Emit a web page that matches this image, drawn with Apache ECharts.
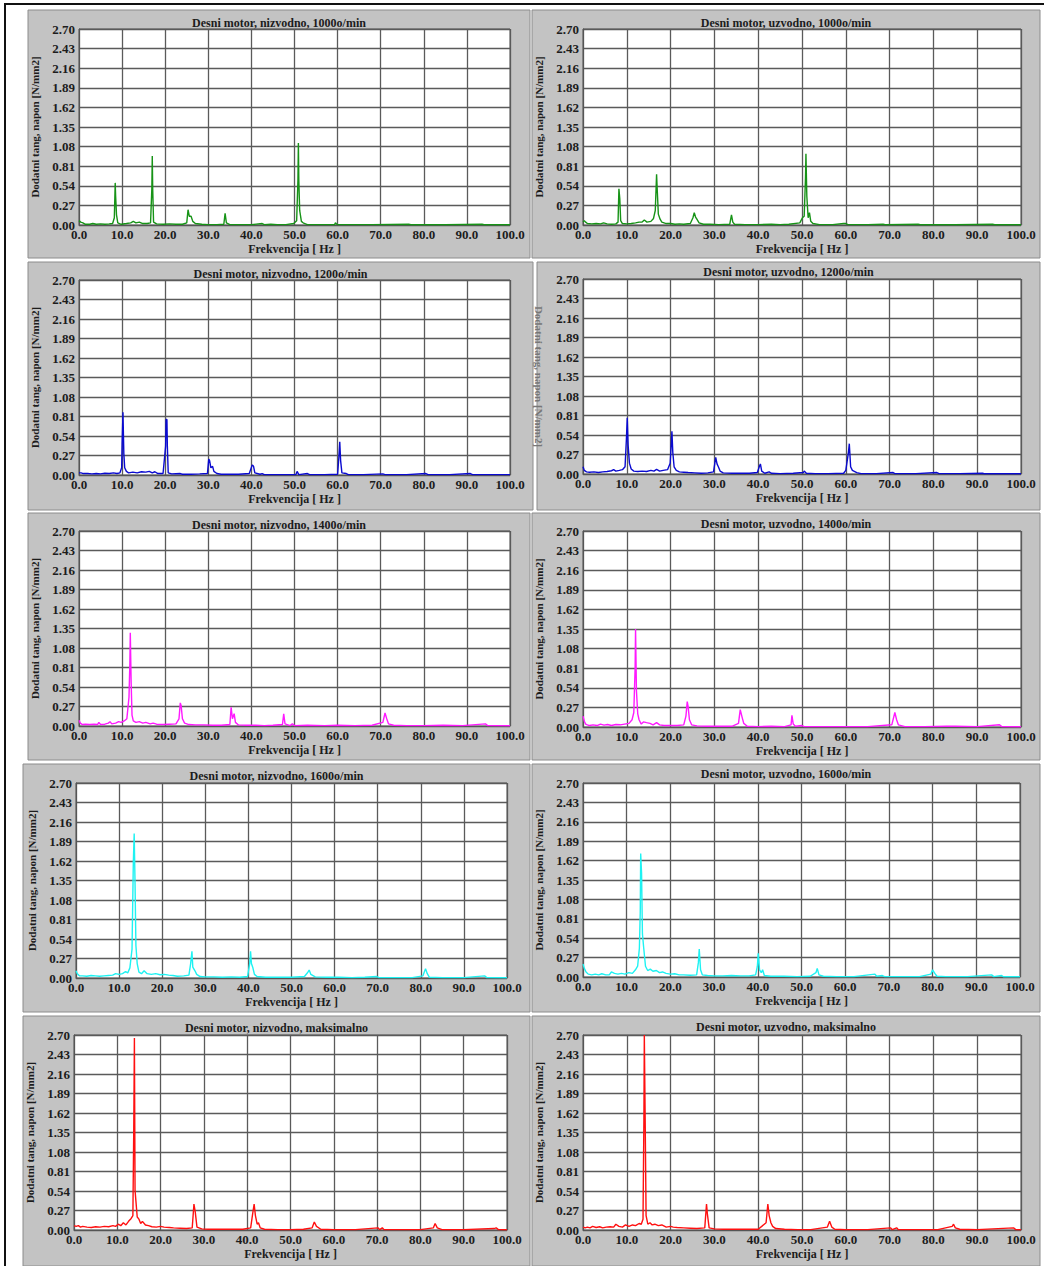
<!DOCTYPE html>
<html>
<head>
<meta charset="utf-8">
<script src="https://cdn.jsdelivr.net/npm/echarts@6/dist/echarts.min.js"></script>
<style>
html, body { margin: 0; padding: 0; background: #fff; }
#main { width: 1048px; height: 1266px; }
</style>
</head>
<body>
<div id="main"></div>
<script>
// axis ranges (Hz / N/mm2)
var xMax = 100, xStep = 10;
var yMax = 2.70, yStep = 0.27;

var titles = [
  'Desni motor, nizvodno, 1000o/min', 'Desni motor, uzvodno, 1000o/min',
  'Desni motor, nizvodno, 1200o/min', 'Desni motor, uzvodno, 1200o/min',
  'Desni motor, nizvodno, 1400o/min', 'Desni motor, uzvodno, 1400o/min',
  'Desni motor, nizvodno, 1600o/min', 'Desni motor, uzvodno, 1600o/min',
  'Desni motor, nizvodno, maksimalno', 'Desni motor, uzvodno, maksimalno'
];
var xName = 'Frekvencija [ Hz ]';
var yName = 'Dodatni tang, napon [N/mm2]';

// spectra: [frequency, amplitude]
var niz1000 = [[0,0.06],[0.4,0.04],[0.9,0.03],[1.5,0.01],[2.5,0.01],[3.2,0.02],[4,0.01],[5,0.015],[6,0.01],[7,0.015],[7.8,0.02],[8.2,0.1],[8.4,0.58],[8.5,0.4],[8.7,0.14],[9,0.03],[9.8,0.01],[11,0.02],[12,0.03],[12.6,0.05],[13.2,0.03],[14,0.04],[14.8,0.02],[15.8,0.02],[16.6,0.03],[16.9,0.5],[17.0,0.95],[17.1,0.5],[17.3,0.04],[18,0.015],[19.5,0.01],[21,0.015],[22.5,0.01],[24,0.01],[25,0.03],[25.3,0.21],[25.6,0.12],[26,0.12],[26.4,0.05],[27,0.02],[28.5,0.01],[30,0.005],[32,0.005],[33.6,0.01],[33.9,0.16],[34.2,0.03],[35,0.005],[37,0.005],[40,0.005],[42.5,0.02],[43,0.005],[44.5,0.01],[46,0.005],[48,0.005],[49.8,0.02],[50.5,0.06],[50.8,0.62],[50.9,1.13],[51.0,0.62],[51.2,0.2],[51.6,0.05],[52,0.03],[52.4,0.02],[53,0.005],[56,0.005],[59.3,0.005],[59.5,0.03],[59.9,0.005],[63,0.005],[68,0.005],[76.5,0.01],[77,0.003],[85,0.003],[93.5,0.01],[94,0.003],[100,0.003]];
var uz1000 = [[0,0.04],[0.3,0.06],[0.6,0.04],[1,0.02],[2,0.015],[3,0.02],[4,0.015],[4.7,0.03],[5.5,0.015],[6.5,0.01],[7.5,0.015],[8,0.04],[8.2,0.5],[8.4,0.36],[8.6,0.06],[9,0.02],[10,0.015],[11,0.02],[12,0.03],[12.8,0.04],[13.5,0.04],[14,0.07],[14.6,0.04],[15.5,0.05],[16.1,0.09],[16.5,0.2],[16.8,0.7],[16.9,0.55],[17.2,0.15],[17.6,0.08],[18,0.04],[19,0.02],[20,0.02],[21,0.01],[22,0.015],[23,0.01],[24.5,0.02],[25.1,0.1],[25.4,0.17],[25.7,0.11],[26,0.08],[26.5,0.03],[27.5,0.01],[29,0.01],[31,0.005],[33.5,0.01],[33.9,0.14],[34.2,0.04],[34.6,0.01],[37,0.005],[40,0.005],[43,0.01],[45,0.005],[47,0.01],[49.5,0.03],[50.1,0.1],[50.5,0.12],[50.8,0.65],[50.9,0.98],[51.1,0.4],[51.4,0.1],[51.7,0.17],[52,0.05],[52.5,0.02],[54,0.005],[57,0.005],[59.5,0.02],[60,0.02],[60.5,0.005],[65,0.005],[68.5,0.01],[69,0.003],[76.5,0.01],[77,0.003],[85,0.003],[93.5,0.01],[94,0.003],[100,0.003]];
var niz1200 = [[0,0.03],[0.5,0.03],[1,0.02],[2,0.02],[3,0.015],[4,0.02],[5,0.015],[6,0.025],[7,0.02],[8,0.03],[8.8,0.02],[9.5,0.03],[9.9,0.1],[10.0,0.43],[10.2,0.87],[10.4,0.3],[10.6,0.1],[11,0.05],[11.5,0.03],[12.5,0.04],[13.5,0.03],[14.5,0.045],[15.5,0.04],[16.3,0.05],[17,0.03],[17.6,0.045],[18.3,0.02],[19.5,0.02],[20.1,0.4],[20.2,0.77],[20.4,0.77],[20.5,0.4],[20.7,0.03],[21.5,0.015],[23.5,0.02],[24,0.01],[26,0.01],[28,0.015],[29.8,0.02],[30.1,0.22],[30.3,0.2],[30.6,0.1],[31,0.12],[31.3,0.05],[32,0.02],[33,0.01],[35,0.01],[37,0.01],[39.5,0.02],[40.2,0.14],[40.5,0.12],[40.8,0.03],[42,0.01],[42.5,0.02],[43,0.005],[46,0.005],[50.3,0.005],[50.6,0.05],[51,0.005],[53,0.02],[53.5,0.005],[57,0.005],[60,0.01],[60.3,0.25],[60.5,0.46],[60.7,0.2],[61,0.03],[62,0.02],[62.5,0.005],[66,0.005],[70.5,0.015],[71,0.005],[76,0.005],[80.5,0.02],[81,0.005],[86,0.005],[90.8,0.02],[91.3,0.005],[100,0.005]];
var uz1200 = [[0,0.1],[0.3,0.05],[0.8,0.03],[1.5,0.025],[2.5,0.03],[3.5,0.02],[4.5,0.03],[5.5,0.035],[6.5,0.045],[7,0.06],[7.5,0.04],[8.3,0.05],[9,0.06],[9.6,0.1],[9.9,0.47],[10.1,0.78],[10.3,0.4],[10.6,0.15],[11,0.07],[11.6,0.04],[12.5,0.035],[13.5,0.04],[14.5,0.035],[15.5,0.05],[16.2,0.04],[16.8,0.065],[17.5,0.04],[18.3,0.05],[19.3,0.06],[19.9,0.15],[20.2,0.47],[20.3,0.59],[20.5,0.3],[20.8,0.1],[21.3,0.05],[22,0.03],[23,0.025],[24,0.02],[25.5,0.015],[27,0.01],[28.5,0.015],[29.8,0.03],[30.1,0.15],[30.3,0.23],[30.6,0.14],[30.9,0.1],[31.3,0.04],[32,0.015],[34,0.01],[36,0.01],[38,0.01],[39.8,0.02],[40.3,0.11],[40.5,0.14],[40.8,0.04],[41.5,0.01],[42.5,0.03],[43,0.01],[45,0.005],[48,0.01],[50.3,0.02],[50.5,0.04],[51,0.01],[53,0.005],[56,0.005],[59.5,0.01],[60,0.05],[60.6,0.3],[60.8,0.42],[61.1,0.1],[61.5,0.05],[62.5,0.02],[63.5,0.005],[67,0.005],[70.8,0.02],[71.2,0.005],[76,0.005],[80.8,0.02],[81.3,0.005],[86,0.005],[91.2,0.01],[91.6,0.003],[100,0.003]];
var niz1400 = [[0,0.08],[0.3,0.04],[0.8,0.02],[1.5,0.025],[2.5,0.02],[3.5,0.025],[4.3,0.02],[4.6,0.05],[5,0.02],[6,0.025],[6.8,0.04],[7.2,0.06],[7.6,0.03],[8.5,0.04],[9.2,0.06],[9.8,0.05],[10.5,0.07],[11.1,0.1],[11.6,0.4],[11.8,0.87],[11.9,1.29],[12.1,0.6],[12.3,0.15],[12.6,0.07],[13.2,0.05],[14,0.06],[14.8,0.04],[15.5,0.05],[16.5,0.03],[17.2,0.04],[18,0.025],[19.5,0.02],[21,0.025],[22.5,0.03],[23.2,0.1],[23.5,0.32],[23.7,0.28],[24,0.1],[24.5,0.04],[25.5,0.02],[27,0.015],[29,0.015],[31,0.01],[33,0.01],[35,0.02],[35.3,0.26],[35.6,0.1],[36,0.17],[36.3,0.05],[37,0.015],[39,0.01],[41,0.01],[43,0.005],[45,0.01],[47.2,0.02],[47.5,0.17],[47.8,0.03],[49,0.005],[49.5,0.03],[50,0.005],[53,0.01],[57,0.005],[60,0.01],[64,0.005],[68,0.01],[70.5,0.05],[71,0.18],[71.4,0.1],[71.8,0.03],[73,0.01],[76,0.005],[80,0.005],[84.5,0.01],[89,0.005],[94.3,0.03],[94.8,0.005],[100,0.003]];
var uz1400 = [[0,0.15],[0.3,0.08],[0.6,0.04],[1,0.03],[1.5,0.02],[2.3,0.03],[3.2,0.02],[4,0.04],[4.8,0.025],[5.6,0.035],[6.5,0.02],[7.5,0.035],[8.5,0.03],[9.5,0.04],[10.5,0.05],[11.2,0.1],[11.6,0.2],[11.9,0.82],[12.0,1.35],[12.2,0.5],[12.5,0.18],[12.8,0.1],[13.3,0.04],[13.8,0.07],[14.5,0.06],[15.3,0.05],[16,0.03],[16.8,0.06],[17.5,0.03],[18.5,0.02],[20,0.02],[21.5,0.02],[23,0.03],[23.5,0.15],[23.8,0.35],[24,0.28],[24.3,0.1],[24.8,0.03],[26,0.015],[28,0.01],[30,0.01],[32,0.01],[34,0.01],[35.5,0.05],[35.9,0.24],[36.3,0.14],[36.7,0.05],[37.5,0.01],[40,0.005],[43,0.01],[46,0.005],[47.5,0.03],[47.7,0.16],[48,0.04],[48.5,0.01],[50,0.02],[50.5,0.005],[55,0.005],[60,0.005],[65,0.005],[70.5,0.03],[71.2,0.2],[71.6,0.1],[72,0.03],[73.5,0.005],[78,0.005],[83,0.01],[85,0.01],[90,0.005],[95.1,0.03],[95.6,0.005],[100,0.003]];
var niz1600 = [[0,0.1],[0.3,0.06],[0.8,0.03],[1.5,0.03],[2.5,0.025],[3.5,0.035],[4.5,0.03],[5.5,0.025],[6.5,0.03],[7.5,0.035],[8.5,0.04],[9.2,0.06],[10,0.05],[10.8,0.06],[11.5,0.09],[12,0.07],[12.5,0.14],[13,0.4],[13.3,1.6],[13.5,2.0],[13.7,1.3],[13.9,0.45],[14.2,0.2],[14.6,0.08],[15.2,0.06],[15.8,0.1],[16.5,0.06],[17.5,0.05],[18.5,0.06],[19.5,0.045],[20.5,0.05],[21.5,0.04],[22.5,0.035],[23.5,0.025],[25,0.03],[26.2,0.04],[26.6,0.2],[26.9,0.37],[27.1,0.15],[27.6,0.1],[28,0.05],[28.8,0.02],[30,0.015],[32,0.015],[34,0.01],[36,0.015],[38,0.01],[39.8,0.02],[40.3,0.2],[40.5,0.37],[40.7,0.2],[41,0.15],[41.4,0.05],[42,0.02],[44,0.01],[47,0.01],[50,0.01],[53,0.02],[53.8,0.08],[54.1,0.11],[54.5,0.05],[55.5,0.015],[58,0.01],[61,0.01],[64,0.005],[67,0.01],[69.8,0.02],[70.3,0.005],[74,0.005],[78,0.005],[80.5,0.03],[81.1,0.13],[81.5,0.06],[82,0.01],[85,0.005],[90,0.005],[94.8,0.03],[95.3,0.005],[100,0.003]];
var uz1600 = [[0,0.18],[0.3,0.12],[0.7,0.07],[1.2,0.04],[2,0.03],[2.8,0.04],[3.6,0.03],[4.3,0.045],[5.2,0.03],[6,0.03],[6.5,0.07],[7.2,0.05],[8,0.04],[8.8,0.05],[9.6,0.04],[10.5,0.06],[11.3,0.05],[12,0.1],[12.5,0.15],[12.9,0.4],[13.1,0.9],[13.2,1.72],[13.4,1.45],[13.6,0.6],[13.9,0.4],[14.3,0.15],[14.8,0.09],[15.4,0.11],[16,0.08],[16.8,0.09],[17.5,0.06],[18.2,0.07],[19,0.05],[20,0.04],[21,0.045],[22,0.03],[23,0.03],[24.5,0.025],[26,0.03],[26.4,0.2],[26.6,0.39],[26.9,0.1],[27.3,0.03],[28.5,0.02],[30,0.015],[32,0.015],[34,0.02],[36,0.015],[38,0.015],[39.5,0.03],[39.9,0.15],[40.1,0.33],[40.4,0.1],[40.8,0.06],[41.1,0.1],[41.5,0.02],[43,0.01],[46,0.01],[49,0.005],[52,0.01],[53.3,0.06],[53.6,0.12],[54,0.03],[55,0.01],[58,0.005],[62,0.005],[66.8,0.04],[67.2,0.01],[68.5,0.02],[69,0.005],[73,0.005],[77,0.005],[79.6,0.04],[80,0.1],[80.5,0.05],[81,0.01],[83,0.005],[88,0.005],[93.5,0.03],[94,0.005],[95.8,0.02],[96.2,0.003],[100,0.003]];
var nizMax = [[0,0.06],[0.5,0.05],[1,0.06],[1.5,0.04],[2,0.05],[3,0.04],[4,0.035],[5,0.045],[6,0.04],[7,0.05],[8,0.045],[9,0.06],[9.6,0.05],[10.2,0.08],[10.8,0.06],[11.4,0.1],[12,0.07],[12.6,0.12],[13.2,0.16],[13.6,0.2],[13.8,1.4],[13.95,2.66],[14.1,0.55],[14.3,0.4],[14.6,0.18],[15,0.15],[15.4,0.09],[15.8,0.12],[16.5,0.07],[17.2,0.06],[18,0.045],[19,0.04],[20,0.05],[20.8,0.04],[22,0.035],[23,0.03],[24.5,0.025],[26,0.02],[27.3,0.03],[27.7,0.36],[28,0.25],[28.4,0.04],[29.5,0.015],[31,0.01],[33,0.01],[35,0.01],[37,0.01],[39,0.01],[40.8,0.03],[41.2,0.2],[41.6,0.36],[41.9,0.2],[42.3,0.08],[42.6,0.1],[43,0.03],[44,0.01],[47,0.005],[50,0.005],[53,0.01],[55,0.03],[55.5,0.11],[56,0.05],[57,0.01],[60,0.005],[65,0.005],[70.2,0.03],[70.6,0.005],[71.2,0.03],[71.6,0.005],[76,0.005],[80,0.005],[83,0.03],[83.4,0.09],[83.9,0.03],[85,0.005],[90,0.005],[97,0.02],[97.5,0.03],[98,0.005],[100,0.003]];
var uzMax = [[0,0.04],[0.5,0.03],[1,0.04],[1.6,0.03],[2.2,0.05],[3,0.035],[3.8,0.045],[4.5,0.03],[5.3,0.04],[6.2,0.045],[7,0.04],[7.5,0.08],[8.2,0.05],[9,0.04],[9.7,0.07],[10.5,0.05],[11.3,0.07],[12,0.06],[12.8,0.09],[13.3,0.08],[13.7,0.15],[13.9,1.5],[14.0,2.7],[14.2,1.5],[14.4,0.2],[14.8,0.08],[15.3,0.1],[15.8,0.07],[16.4,0.08],[17.2,0.06],[18,0.07],[19,0.04],[20,0.05],[20.6,0.04],[21.5,0.035],[23,0.03],[24.5,0.025],[26,0.02],[27.8,0.03],[28.2,0.36],[28.4,0.22],[28.8,0.03],[30,0.015],[32,0.01],[34,0.01],[36,0.01],[38,0.01],[40,0.01],[41.8,0.1],[42.2,0.36],[42.5,0.2],[42.9,0.1],[43.3,0.05],[44,0.02],[46,0.01],[49,0.005],[52,0.005],[55.8,0.04],[56.3,0.12],[56.8,0.04],[57.5,0.01],[60,0.005],[65,0.005],[70.2,0.03],[70.6,0.005],[71.6,0.03],[72,0.005],[77,0.005],[81,0.005],[84.3,0.05],[84.6,0.08],[85,0.03],[86,0.01],[90,0.005],[98.3,0.03],[98.8,0.005],[100,0.003]];

var spectra = [niz1000, uz1000, niz1200, uz1200, niz1400, uz1400, niz1600, uz1600, nizMax, uzMax];
var colors = ['#179317', '#179317', '#0a0ad0', '#0a0ad0', '#ff19ff', '#ff19ff', '#1ef2f2', '#1ef2f2', '#ff1010', '#ff1010'];

// panel boxes [x, y, w, h] and plot boxes [left, top, width, height]
var boxes = [
  [28, 10, 502, 248], [532, 10, 508, 248],
  [28, 262, 505, 248], [537, 262, 503, 248],
  [28, 513, 502, 247], [532, 513, 508, 247],
  [23, 764, 507, 248], [532, 764, 508, 248],
  [23, 1016, 507, 250], [532, 1016, 508, 250]
];
var plots = [
  [79, 29, 431, 196], [583, 29, 438, 196],
  [79, 280, 431, 195], [583, 279, 438, 195],
  [79, 531, 431, 195], [583, 531, 438, 196],
  [76, 783, 431, 195], [583, 783, 437, 194],
  [74, 1035, 433, 195], [583, 1035, 438, 195]
];
var titleY = [17, 17, 268, 266, 519, 518, 770, 768, 1022, 1021];

var font = 'Liberation Serif';
var ink = '#1c1c1c';

var chart = echarts.init(document.getElementById('main'), null, {renderer: 'svg'});

var graphic = [];
var title = [], grid = [], xAxis = [], yAxis = [], series = [];

for (var i = 0; i < 10; i++) {
  var b = boxes[i], p = plots[i];
  graphic.push({
    type: 'rect', z: -10, silent: true,
    shape: {x: b[0], y: b[1], width: b[2], height: b[3]},
    style: {fill: '#c3c3c3', stroke: '#8c8c8c', lineWidth: 1}
  });
  title.push({
    text: titles[i],
    left: b[0] + b[2] / 2, top: titleY[i],
    textAlign: 'center', padding: 0,
    textStyle: {fontFamily: font, fontSize: 12, fontWeight: 'bold', color: ink}
  });
  grid.push({
    left: p[0], top: p[1], width: p[2], height: p[3],
    show: true, backgroundColor: '#ffffff', borderColor: '#555', borderWidth: 1
  });
  xAxis.push({
    type: 'value', gridIndex: i, min: 0, max: xMax, interval: xStep,
    name: xName, nameLocation: 'middle', nameGap: 18,
    nameTextStyle: {fontFamily: font, fontSize: 12, fontWeight: 'bold', color: ink},
    axisLine: {lineStyle: {color: '#555'}},
    axisTick: {show: false},
    axisLabel: {
      margin: 3, fontFamily: font, fontSize: 13, fontWeight: 'bold', color: ink,
      formatter: function (v) { return v.toFixed(1); }
    },
    splitLine: {show: true, lineStyle: {color: '#5a5a5a', width: 1.3}}
  });
  yAxis.push({
    type: 'value', gridIndex: i, min: 0, max: yMax, interval: yStep,
    name: yName, nameLocation: 'middle', nameGap: 39,
    nameRotate: i === 3 ? -90 : 90,
    nameTextStyle: {fontFamily: font, fontSize: 11, fontWeight: 'bold', color: i === 3 ? '#777' : ink},
    axisLine: {show: true, lineStyle: {color: '#555'}},
    axisTick: {show: false},
    axisLabel: {
      margin: 4, fontFamily: font, fontSize: 13, fontWeight: 'bold', color: ink,
      formatter: function (v) { return v.toFixed(2); }
    },
    splitLine: {show: true, lineStyle: {color: '#5a5a5a', width: 1.3}}
  });
  series.push({
    type: 'line', xAxisIndex: i, yAxisIndex: i,
    data: spectra[i], showSymbol: false, symbol: 'none',
    lineStyle: {color: colors[i], width: 1.4},
    itemStyle: {color: colors[i]},
    animation: false
  });
}

// outer frame of the page
graphic.push({
  type: 'polyline', z: 10, silent: true,
  shape: {points: [[5, 1266], [5, 4], [1044, 4]]},
  style: {stroke: '#111', lineWidth: 2, fill: null}
});

chart.setOption({
  animation: false,
  backgroundColor: '#ffffff',
  graphic: graphic,
  title: title,
  grid: grid,
  xAxis: xAxis,
  yAxis: yAxis,
  series: series
});
</script>
</body>
</html>
